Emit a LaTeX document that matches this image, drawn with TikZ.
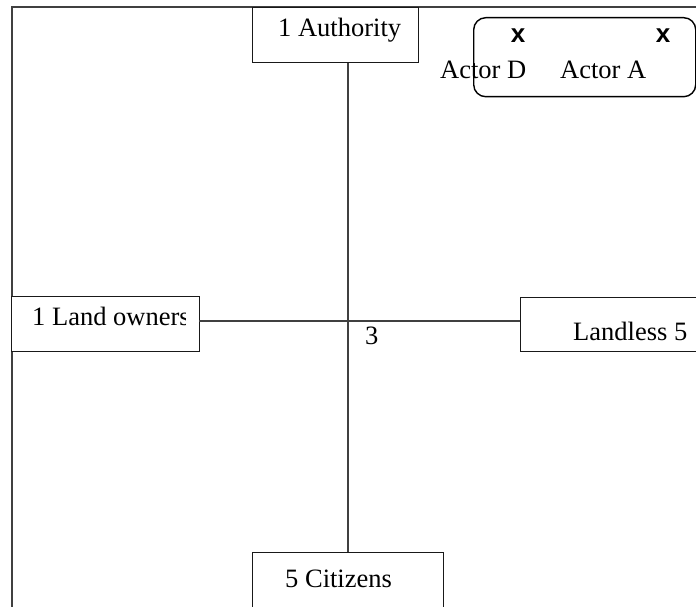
\documentclass[tikz,border=0pt]{standalone}
\usepackage{fontspec}
\setmainfont{Liberation Serif}
\newfontfamily\xfont{Liberation Sans}
\begin{document}
\begin{tikzpicture}[x=1pt,y=-1pt,
  boxst/.style={draw=black!90,line width=1.1pt,inner sep=0pt,anchor=north west},
  txt/.style={inner sep=0pt,anchor=base west,font=\fontsize{26.5}{30}\selectfont},
  xmarkst/.style={inner sep=0pt,anchor=base,font=\xfont\bfseries\fontsize{26}{30}\selectfont},
  linest/.style={draw=black!75,line width=1.2pt}]
\useasboundingbox (0,0) rectangle (696,607);
\clip (0,0) rectangle (696,607);
\fill[white] (0,0) rectangle (696,607);
% frame lines
\coordinate (tl) at (12,7);
\coordinate (tr) at (700,7);
\coordinate (bl) at (12,610);
\draw[linest] (tr) -- (tl) -- (bl);
% boxes
\node[boxst,fill=white,minimum width=166pt,minimum height=55pt] (auth) at (252,7) {};
\node[txt] (authT) at (278,37) {1 Authority};
\node[boxst,fill=white,minimum width=191pt,minimum height=70pt] (cit) at (252,552) {};
\node[txt] (citT) at (285,587) {5 Citizens};
\node[boxst,fill=white,minimum width=188pt,minimum height=55pt] (lo) at (11,296) {};
\begin{scope}
\clip (11,296) rectangle (185,351);
\node[txt] (loT) at (32,325) {1 Land owners};
\end{scope}
\node[boxst,fill=white,minimum width=200pt,minimum height=54pt] (ll) at (520,297) {};
\node[txt] (llT) at (573,340) {Landless 5};
% connectors
\draw[linest] (cit.north) -- (cit.north |- auth.south);
\coordinate (hl) at (199,321);
\coordinate (hr) at (520,321);
\draw[linest] (hl) -- (hr);
\node[txt] (three) at (365,344) {3};
% actor box
\node[draw=black,line width=1.4pt,rounded corners=12pt,inner sep=0pt,anchor=north west,minimum width=222pt,minimum height=79pt] (actors) at (473,17) {};
\node[xmarkst] (x1) at (518,43) {x};
\node[xmarkst] (x2) at (663,43) {x};
\node[txt] (actD) at (440,79) {Actor D};
\node[txt] (actA) at (560,79) {Actor A};
\end{tikzpicture}
\end{document}
